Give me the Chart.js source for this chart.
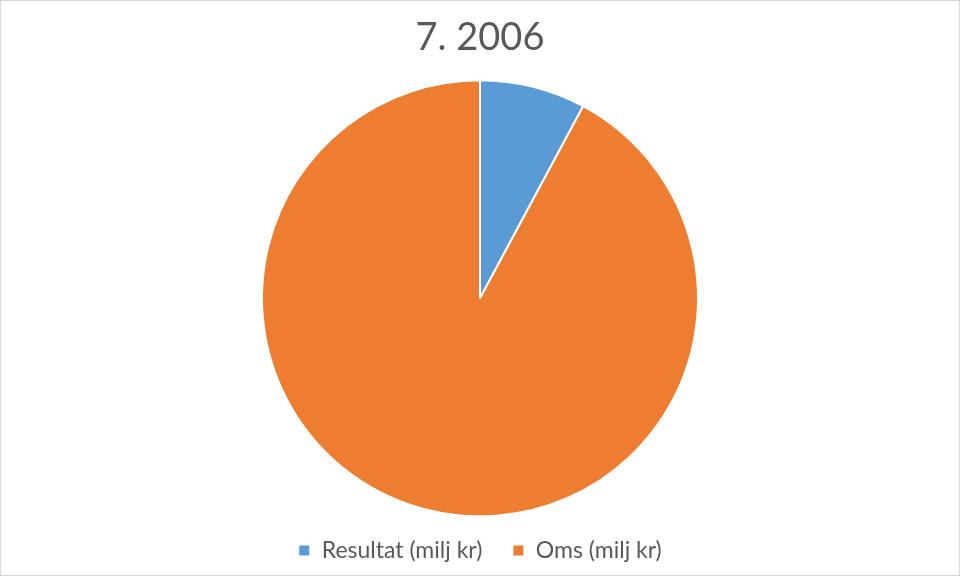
<!DOCTYPE html>
<html>
<head>
<meta charset="utf-8">
<script src="https://cdn.jsdelivr.net/npm/chart.js@4"></script>
<style>
    html, body { margin: 0; padding: 0; background: #fff; }
    #wrap { width: 960px; height: 576px; box-sizing: border-box; border: 1px solid #d9d9d9; }
</style>
</head>
<body>
<div id="wrap"><canvas id="pieChart" width="958" height="574"></canvas></div>
<script>
// --- chart data ---
const chartTitle = '7. 2006';
const categories = ['Resultat (milj kr)', 'Oms (milj kr)'];
const values = [8, 94];
const sliceColors = ['#5B9BD5', '#ED7D31'];

const ctx = document.getElementById('pieChart').getContext('2d');
const myChart = new Chart(ctx, {
    type: 'pie',
    data: {
        labels: categories,
        datasets: [{
            data: values,
            backgroundColor: sliceColors,
            borderColor: '#ffffff',
            borderWidth: 2
        }]
    },
    options: {
        responsive: false,
        animation: false,
        radius: 218,
        layout: { padding: { top: 0, bottom: 3 } },
        plugins: {
            title: {
                display: true,
                text: chartTitle,
                color: '#595959',
                font: { family: 'Lato', size: 38, weight: 'normal' },
                padding: { top: 14, bottom: 27 }
            },
            legend: {
                position: 'bottom',
                labels: {
                    color: '#595959',
                    font: { family: 'Lato', size: 23 },
                    boxWidth: 12,
                    boxHeight: 12,
                    padding: 30
                }
            },
            tooltip: { enabled: false }
        }
    }
});
</script>
</body>
</html>
